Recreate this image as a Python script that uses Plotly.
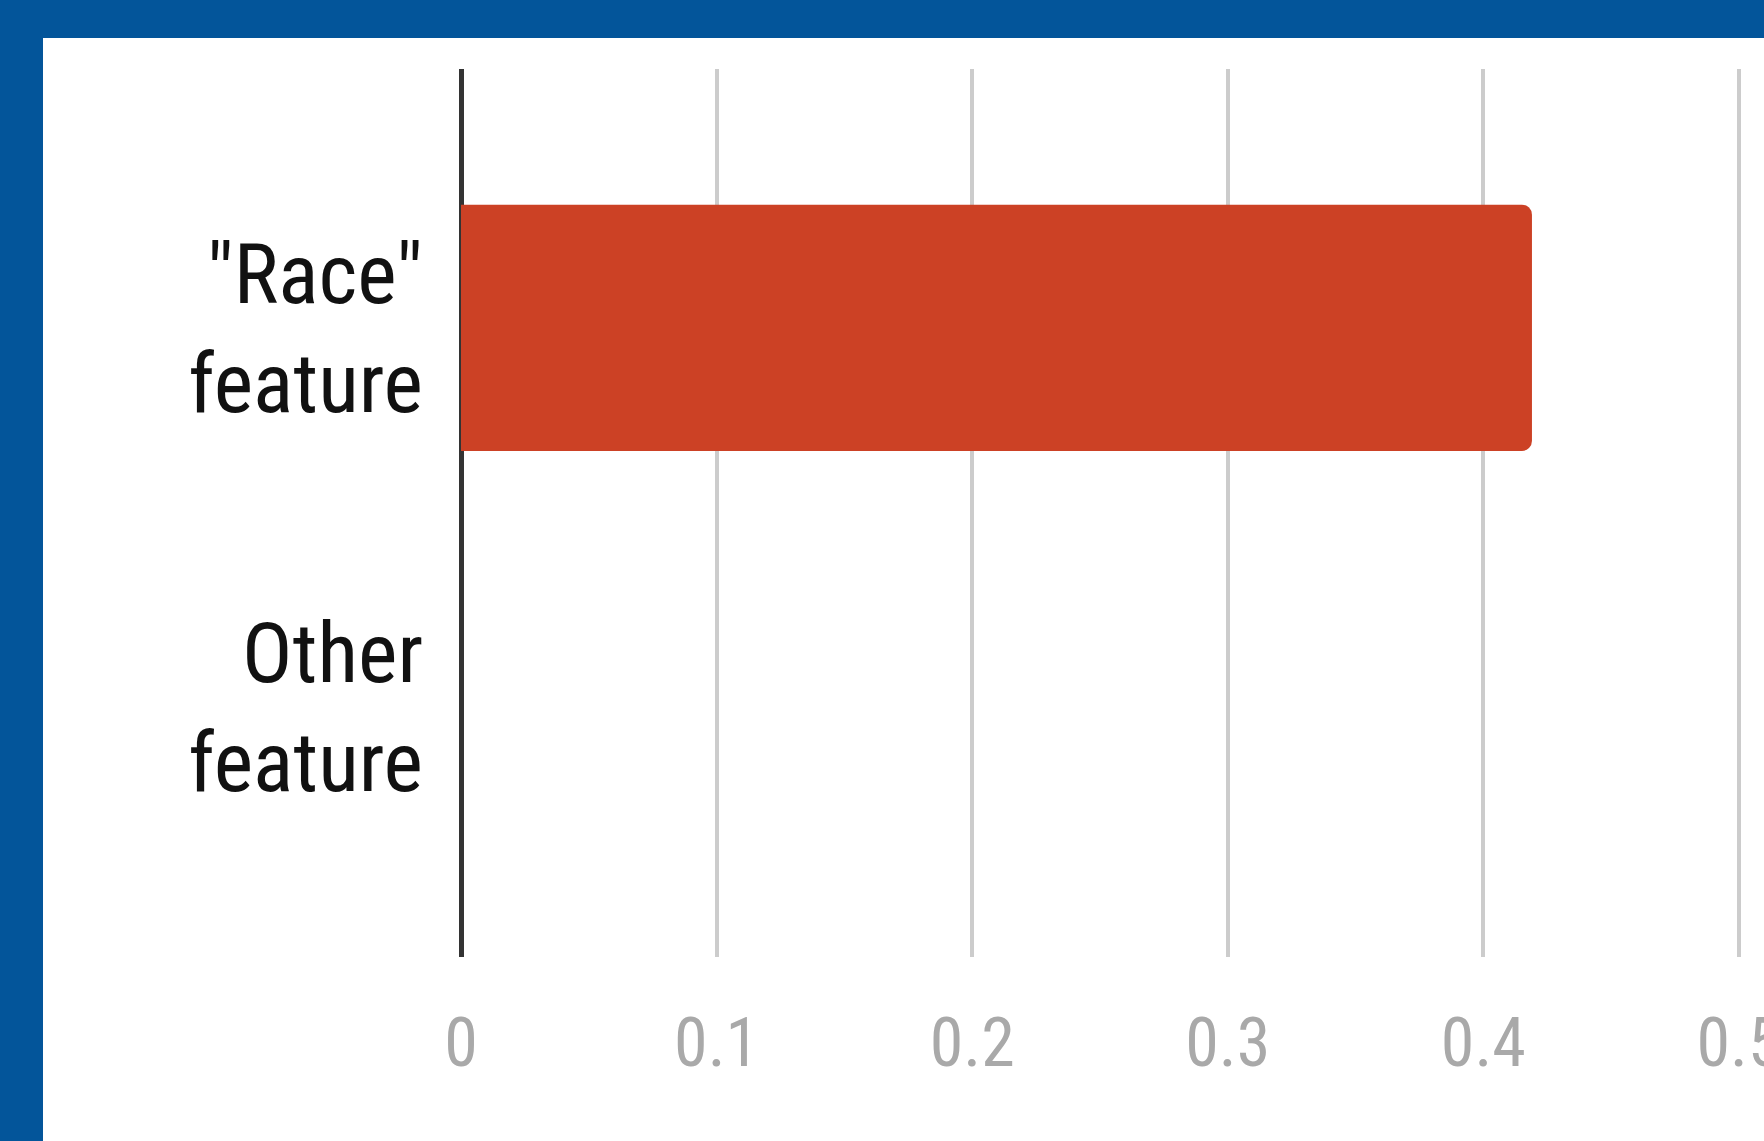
import plotly.graph_objects as go

# Feature importance values
categories = ['"Race"<br>feature', 'Other<br>feature']
values = [0.419, 0.0]
x_ticks = [0, 0.1, 0.2, 0.3, 0.4, 0.5]
x_tick_labels = ["0", "0.1", "0.2", "0.3", "0.4", "0.5"]

FONT = "Roboto Condensed, DejaVu Sans Condensed, Liberation Sans Narrow, Roboto, sans-serif"
W, H = 1764, 1141
PX_PER_UNIT = 2556          # horizontal pixels per 1.0 of value
LEFT_PAD = 4                # room so the zero line is not clipped
ML, MR, MT, MB = 461 - LEFT_PAD, 0, 69, 184
plot_w = W - ML - MR
plot_h = H - MT - MB

fig = go.Figure(
    go.Bar(
        y=categories,
        x=values,
        orientation="h",
        width=0.65,
        marker=dict(color="#cc4125", cornerradius=10, line=dict(width=0)),
        hoverinfo="x+y",
    )
)

# white card on the blue page frame
fig.add_shape(
    type="rect",
    xref="paper",
    yref="paper",
    x0=(43 - ML) / plot_w,
    x1=1.05,
    y0=-0.5,
    y1=1 + (MT - 38) / plot_h,
    fillcolor="white",
    line=dict(width=0),
    layer="below",
)

fig.update_layout(
    width=W,
    height=H,
    autosize=False,
    margin=dict(l=ML, r=MR, t=MT, b=MB, pad=0),
    paper_bgcolor="#03559a",
    plot_bgcolor="white",
    showlegend=False,
    xaxis=dict(
        range=[-LEFT_PAD / PX_PER_UNIT, (plot_w - LEFT_PAD) / PX_PER_UNIT],
        tickvals=x_ticks,
        ticktext=x_tick_labels,
        showgrid=True,
        gridcolor="#cccccc",
        gridwidth=3.5,
        zeroline=True,
        zerolinecolor="#333333",
        zerolinewidth=4.5,
        showline=False,
        ticks="",
        ticklabelstandoff=40,
        ticklabeloverflow="allow",
        automargin=False,
        tickfont=dict(family=FONT, size=68, color="#a9a9a9"),
        fixedrange=True,
    ),
    yaxis=dict(
        type="category",
        categoryorder="array",
        categoryarray=categories,
        range=[1.66, -0.683],
        showgrid=False,
        zeroline=False,
        showline=False,
        ticks="",
        ticklabelstandoff=33,
        automargin=False,
        tickfont=dict(family=FONT, size=84, color="#111111"),
        fixedrange=True,
    ),
)

# no page scrollbars; the last tick label runs off the right edge
post = """
document.documentElement.style.overflow = 'hidden';
document.body.style.overflow = 'hidden';
document.body.style.margin = '0';
"""

fig.write_html("out.html", post_script=post, config={"responsive": False})
